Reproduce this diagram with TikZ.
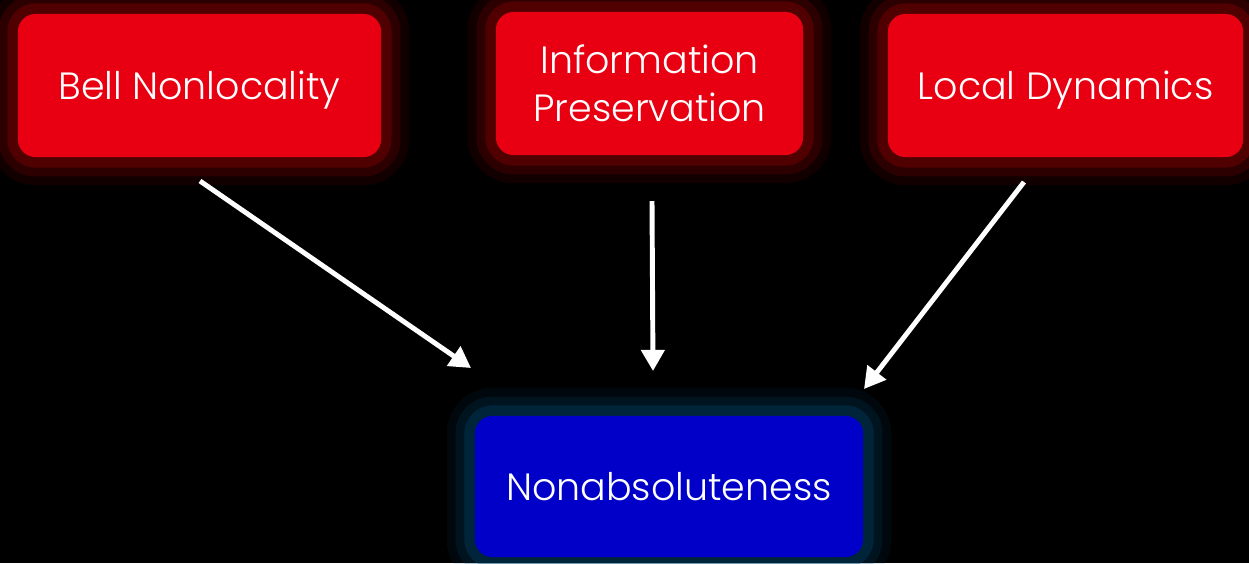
\documentclass[tikz,border=0pt]{standalone}
\usepackage{fontspec}
\IfFontExistsTF{Poppins Light}{\setmainfont{Poppins Light}}{\setmainfont{Poppins}}
\usetikzlibrary{arrows.meta}
\definecolor{boxred}{RGB}{232,0,18}
\definecolor{boxblue}{RGB}{0,0,200}
\definecolor{glowred}{RGB}{150,0,0}
\definecolor{glowblue}{RGB}{0,70,110}
\tikzstyle{card}=[%
	rounded corners=5pt, inner sep=0, text=white, align=center,
	font=\fontsize{10.8}{13.5}\selectfont
]
\tikzstyle{redglow}=[%
	card, fill=boxred,
	preaction={draw=glowred, line width=16pt, opacity=0.12},
	preaction={draw=glowred, line width=11pt, opacity=0.2},
	preaction={draw=glowred, line width=6pt, opacity=0.35}
]
\tikzstyle{blueglow}=[%
	card, fill=boxblue,
	preaction={draw=glowblue, line width=16pt, opacity=0.12},
	preaction={draw=glowblue, line width=11pt, opacity=0.2},
	preaction={draw=glowblue, line width=6pt, opacity=0.35}
]
\tikzstyle{link}=[%
	draw=white, line width=1.4pt, -{Triangle[length=6pt, width=6.5pt]}
]

\begin{document}
\begin{tikzpicture}[x=0.01cm, y=-0.01cm]
	\useasboundingbox (0,0) rectangle (1249,563);
	\clip (0,0) rectangle (1249,563);
	\fill[black] (0,0) rectangle (1249,563);

	\node[redglow, text depth=0pt, minimum width=3.63cm, minimum height=1.43cm] (bell) at (199.5,85.5) {Bell Nonlocality};
	\node[redglow, minimum width=3.07cm, minimum height=1.43cm] (info) at (649.5,83.5) {Information\\Preservation};
	\node[redglow, text depth=0pt, minimum width=3.55cm, minimum height=1.43cm] (local) at (1065.5,85.5) {Local Dynamics};

	\node[blueglow, minimum width=3.88cm, minimum height=1.41cm] (nonabs) at (669,486.5) {Nonabsoluteness};

	\coordinate (bellout) at (200,181);
	\coordinate (bellin) at (471,368);
	\coordinate (infoout) at (652,201);
	\coordinate (infoin) at (653,371);
	\coordinate (localout) at (1024,182);
	\coordinate (localin) at (864,389);

	\draw[link] (bellout) -- (bellin);
	\draw[link] (infoout) -- (infoin);
	\draw[link] (localout) -- (localin);
\end{tikzpicture}
\end{document}
